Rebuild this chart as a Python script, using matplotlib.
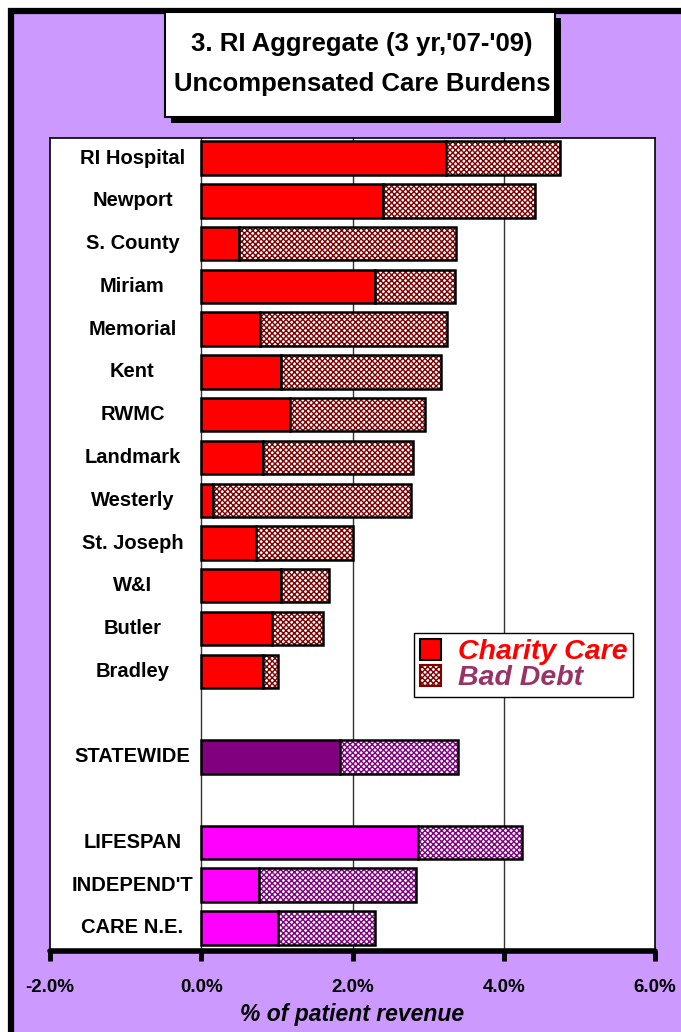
import matplotlib
matplotlib.use("Agg")
import matplotlib.pyplot as plt
from matplotlib import font_manager
from matplotlib.patches import Rectangle, Patch
from matplotlib.ticker import FixedLocator, FixedFormatter

# ---------------- data ----------------
hospitals = ["RI Hospital", "Newport", "S. County", "Miriam", "Memorial", "Kent",
             "RWMC", "Landmark", "Westerly", "St. Joseph", "W&I", "Butler", "Bradley"]
hosp_charity = [3.23, 2.40, 0.50, 2.30, 0.78, 1.06, 1.18, 0.81, 0.15, 0.72, 1.06, 0.94, 0.81]
hosp_baddebt = [1.52, 2.01, 2.87, 1.06, 2.47, 2.11, 1.78, 1.99, 2.63, 1.29, 0.63, 0.67, 0.21]

state_label = ["STATEWIDE"]
state_charity = [1.83]
state_baddebt = [1.57]

systems = ["LIFESPAN", "INDEPEND'T", "CARE N.E."]
sys_charity = [2.86, 0.76, 1.02]
sys_baddebt = [1.38, 2.08, 1.28]

xticks = [-2, 0, 2, 4, 6]
xtick_labels = ["-2.0%", "0.0%", "2.0%", "4.0%", "6.0%"]

title_lines = ["3. RI Aggregate (3 yr,'07-'09)", "Uncompensated Care Burdens"]
legend_labels = ["Charity Care", "Bad Debt"]
xlabel = "% of patient revenue"

# ---------------- style ----------------
BG = "#CC99FF"
RED = "#FF0000"
DARKRED = "#800000"
PURPLE = "#800080"
MAGENTA = "#FF00FF"
BADDEBT_TXT = "#993366"
FONT = ["Liberation Sans", "DejaVu Sans"]
plt.rcParams["font.family"] = FONT

names = {f.name for f in font_manager.fontManager.ttflist}
if "Liberation Sans Narrow" in names:
    NARROW = ["Liberation Sans Narrow", "Liberation Sans"]
    title_size = 23
else:
    NARROW = FONT
    title_size = 18.5

W, H = 681, 1032
fig = plt.figure(figsize=(W / 100, H / 100), dpi=100)
fig.patch.set_facecolor("white")

# lavender background with heavy black top/left border
bgrect = Rectangle((10.5 / W, -0.2), 2.0, (H - 10.5) / H + 0.2, transform=fig.transFigure,
                   facecolor=BG, edgecolor="black", linewidth=4.5, zorder=-10, clip_on=False)
fig.patches.append(bgrect)

# axes
ax_l, ax_r = 50 / W, 655 / W
ax_b, ax_t = (H - 951) / H, (H - 138) / H
ax = fig.add_axes([ax_l, ax_b, ax_r - ax_l, ax_t - ax_b])
ax.set_facecolor("white")

bar_h = 0.78


def draw_group(labels, charity, bad, positions, ccol, hcol):
    ax.barh(positions, charity, height=bar_h, color=ccol, edgecolor="black",
            linewidth=1.8, zorder=3)
    # hatched bad-debt segment: fill + hatch, then a black outline
    ax.barh(positions, bad, left=charity, height=bar_h, facecolor="white",
            edgecolor=hcol, hatch="xxxxxx", linewidth=0, zorder=3)
    ax.barh(positions, bad, left=charity, height=bar_h, facecolor="none",
            edgecolor="black", linewidth=1.8, zorder=4)
    for lab, p in zip(labels, positions):
        ax.text(-0.91, p, lab, ha="center", va="center", fontsize=14.5,
                fontweight="bold", color="black", zorder=5)


pos_h = list(range(len(hospitals)))
pos_s = [len(hospitals) + 1]
pos_y = [len(hospitals) + 3 + i for i in range(len(systems))]

plt.rcParams["hatch.linewidth"] = 1.0
draw_group(hospitals, hosp_charity, hosp_baddebt, pos_h, RED, DARKRED)
draw_group(state_label, state_charity, state_baddebt, pos_s, PURPLE, PURPLE)
draw_group(systems, sys_charity, sys_baddebt, pos_y, MAGENTA, PURPLE)

ax.set_xlim(-2, 6)
ax.set_ylim(18.54, -0.47)

# gridlines / zero line
for gx in [0, 2, 4]:
    ax.axvline(gx, color="#333333", linewidth=1.0, zorder=1)

ax.xaxis.set_major_locator(FixedLocator(xticks))
ax.xaxis.set_major_formatter(FixedFormatter(xtick_labels))
ax.tick_params(axis="x", direction="out", length=7, width=3.5, pad=13,
               labelsize=13.5)
for t in ax.get_xticklabels():
    t.set_fontweight("bold")
ax.set_yticks([])

for s in ["left", "top", "right"]:
    ax.spines[s].set_linewidth(1.2)
    ax.spines[s].set_color("black")
ax.spines["bottom"].set_linewidth(4)
ax.spines["bottom"].set_capstyle("round")

ax.set_xlabel(xlabel, fontsize=16.5, fontweight="bold", fontstyle="italic", labelpad=5)

# legend
handles = [Patch(facecolor=RED, edgecolor="black", linewidth=1.5),
           Patch(facecolor="white", edgecolor=DARKRED, hatch="xxxxxx", linewidth=1.5)]
leg = ax.legend(handles, legend_labels, loc="upper left",
                bbox_to_anchor=((414 - 50) / 605, (951 - 633) / 813),
                frameon=True, fancybox=False, framealpha=1, edgecolor="black",
                handlelength=0.75, handleheight=0.75, handletextpad=0.6,
                borderpad=0.2, borderaxespad=0, labelspacing=0.0,
                prop={"size": 20.5, "weight": "bold", "style": "italic"})
leg.get_frame().set_linewidth(1.0)
leg.set_zorder(10)
for txt, col in zip(leg.get_texts(), [RED, BADDEBT_TXT]):
    txt.set_color(col)

# title box with shadow
bx, by, bw, bh = 165, 12, 390, 105
shadow = Rectangle(((bx + 6) / W, (H - by - bh - 6) / H), bw / W, bh / H,
                   transform=fig.transFigure, facecolor="black", edgecolor="black",
                   linewidth=0, zorder=5)
box = Rectangle((bx / W, (H - by - bh) / H), bw / W, bh / H,
                transform=fig.transFigure, facecolor="white", edgecolor="black",
                linewidth=1.5, zorder=6)
fig.patches.extend([shadow, box])
fig.text(362 / W, 1 - 44 / H, title_lines[0], ha="center", va="center",
         fontsize=title_size, fontweight="bold", family=NARROW, zorder=7)
fig.text(362 / W, 1 - 84 / H, title_lines[1], ha="center", va="center",
         fontsize=title_size, fontweight="bold", family=NARROW, zorder=7)

fig.savefig("out.png", dpi=100, facecolor=fig.get_facecolor())
